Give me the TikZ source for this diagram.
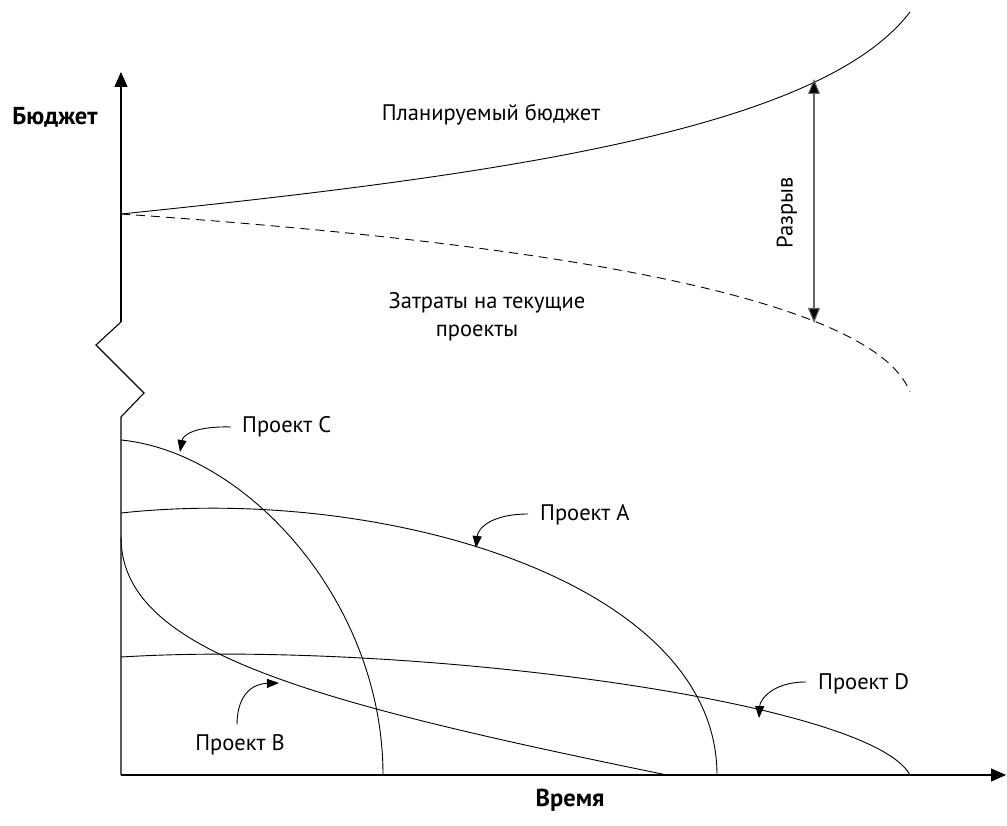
\documentclass[tikz,border=0pt]{standalone}
\usepackage{fontspec}
\setmainfont{PT Sans}
\usetikzlibrary{arrows.meta}
\tikzset{
  curve/.style={line width=0.9pt},
  axis/.style={line width=1.1pt,-{Triangle[length=15pt,width=13pt]}},
  lbl/.style={font=\fontsize{22.5}{26}\selectfont, inner sep=0pt},
  ttl/.style={font=\fontsize{24.5}{28}\selectfont\bfseries, inner sep=0pt},
  pointer/.style={line width=0.9pt,-{Triangle[length=12pt,width=9pt]}},
  gaparrow/.style={line width=1.1pt,draw=black!60,{Triangle[length=15pt,width=12pt,fill=black]}-{Triangle[length=15pt,width=12pt,fill=black]}}
}
\begin{document}
\begin{tikzpicture}[x=1pt,y=-1pt]
\useasboundingbox (0,0) rectangle (1007,826);
% axes
\coordinate (o) at (121,775);
\coordinate (ytop) at (121,72);
\coordinate (xend) at (1006,775);
\coordinate (z1) at (121,322);
\coordinate (z2) at (96,345);
\coordinate (z3) at (144,393);
\coordinate (z4) at (121,417);
\draw[line width=1.1pt] (o) -- (z4) -- (z3) -- (z2) -- (z1);
\draw[axis] (z1) -- (ytop);
\draw[axis] (o) -- (xend);
\node[ttl] (yl) at (55,117) {Бюджет};
\node[ttl] (xl) at (570,800) {Время};
% budget curves
\coordinate (b0) at (121,214);
\coordinate (pend) at (910,12);
\coordinate (dend) at (910,392);
\draw[curve] (b0) .. controls (500,175) and (820,130) .. (pend);
\draw[curve,dash pattern=on 9pt off 6pt] (b0) .. controls (500,240) and (870,290) .. (dend);
\node[lbl] (plan) at (491,115) {Планируемый бюджет};
\node[lbl] (cost1) at (487,303) {Затраты на текущие};
\node[lbl] (cost2) at (477,333) {проекты};
\coordinate (gtop) at (814,79);
\coordinate (gbot) at (814,323);
\draw[gaparrow] (gbot) -- (gtop);
\node[lbl,rotate=90] (gap) at (787,213) {Разрыв};
% projects
\draw[curve] (121,440) .. controls (245,452) and (383,600) .. (383,775);
\draw[curve] (121,513) .. controls (380,485) and (717,580) .. (717,775);
\draw[curve] (121,537) .. controls (121,650) and (300,700) .. (667,775);
\draw[curve] (121,657) .. controls (400,640) and (870,700) .. (910,775);
% labels
\node[lbl,anchor=west] (pc) at (242,427) {Проект C};
\node[lbl,anchor=west] (pa) at (540,515) {Проект A};
\node[lbl] (pb) at (240,745) {Проект B};
\node[lbl,anchor=west] (pd) at (818,684) {Проект D};
\coordinate (tc) at (180,452);
\coordinate (ta) at (476,548);
\coordinate (tb) at (279,683);
\coordinate (td) at (759,718);
\draw[pointer] (pc.west) ++(-11,0) .. controls (195,426) and (183,435) .. (tc);
\draw[pointer] (pa.west) ++(-12,-1) .. controls (492,514) and (478,528) .. (ta);
\draw[pointer] (pb.north) ++(-3,-10) .. controls (237,700) and (248,684) .. (tb);
\draw[pointer] (pd.west) ++(-12,-2) .. controls (772,682) and (760,700) .. (td);
\end{tikzpicture}
\end{document}
